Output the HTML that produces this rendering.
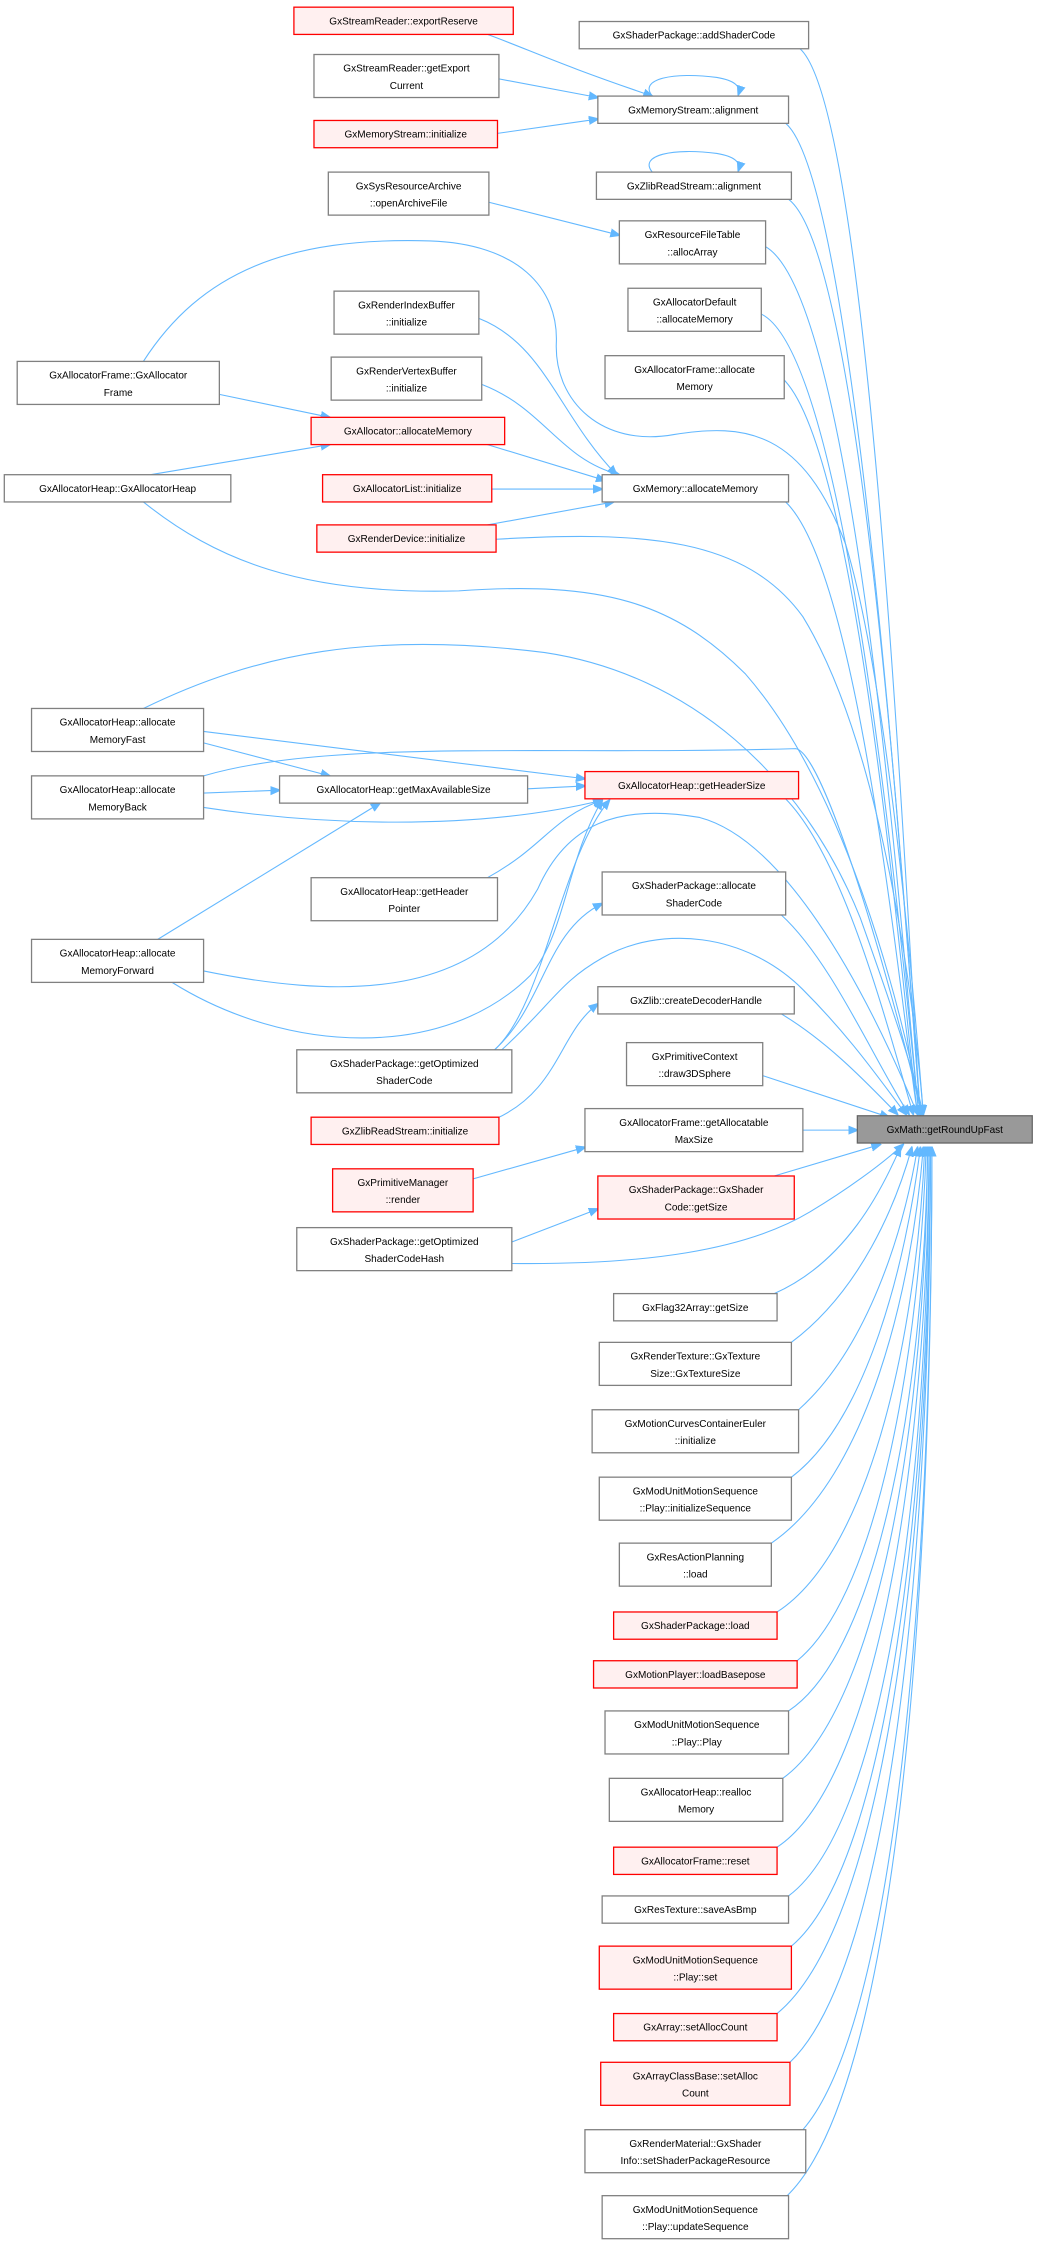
<!DOCTYPE html>
<html><head><meta charset="utf-8"><style>
html,body{margin:0;padding:0;background:#fff;}
svg{display:block;}
text{font-family:"Liberation Sans",sans-serif;font-size:7px;fill:#000;text-anchor:middle;}
.n rect{fill:#fff;stroke:#808080;stroke-width:0.9;}
.r rect{fill:#fff0f0;stroke:#ff0000;stroke-width:0.9;}
.t rect{fill:#999;stroke:#666;stroke-width:0.9;}
path.e{fill:none;stroke:#63b8ff;stroke-width:0.75;}
</style></head><body>
<svg width="1038" height="2243" viewBox="0 0 724 1564" preserveAspectRatio="none" xmlns="http://www.w3.org/2000/svg">
<defs><marker id="a" viewBox="0 0 10 10" refX="9" refY="5" markerWidth="7" markerHeight="7" markerUnits="userSpaceOnUse" orient="auto"><path d="M0,1 L10,5 L0,9 z" fill="#63b8ff" stroke="#63b8ff"/></marker></defs>
<g marker-end="url(#a)">
<!-- local edges -->
<path class="e" d="M340,24 C370,35 390,45 455,67"/>
<path class="e" d="M348,55 L417,68"/>
<path class="e" d="M347,93 L417,83"/>
<path class="e" d="M455,67 C445,55 470,50 500,54 C512,56 517,60 515,66"/>
<path class="e" d="M455,120 C445,108 470,103 500,107 C512,109 517,113 515,119"/>
<path class="e" d="M341,141 L432,164"/>
<path class="e" d="M153,275 L230,291"/>
<path class="e" d="M105,331 L230,310"/>
<path class="e" d="M334,222 C380,240 390,290 430,331"/>
<path class="e" d="M336,268 C380,285 390,320 432,331"/>
<path class="e" d="M340,310 L422,335"/>
<path class="e" d="M343,341 L420,341"/>
<path class="e" d="M340,366 L428,350"/>
<path class="e" d="M142,510 L408,543"/>
<path class="e" d="M142,518 L230,541"/>
<path class="e" d="M142,553 L195,551"/>
<path class="e" d="M142,563 C220,575 330,580 420,558"/>
<path class="e" d="M368,550 L408,548"/>
<path class="e" d="M110,655 L265,560"/>
<path class="e" d="M120,685 C200,735 310,740 370,680 C395,650 395,600 420,558"/>
<path class="e" d="M340,612 C380,590 385,570 420,558"/>
<path class="e" d="M345,732 C380,700 390,600 425,558"/>
<path class="e" d="M345,732 C380,700 380,650 420,630"/>
<path class="e" d="M346,780 C390,760 390,720 417,700"/>
<path class="e" d="M330,822 L408,800"/>
<path class="e" d="M357,866 L417,843"/>
<path class="e" d="M560,788 L598,788"/>
<!-- to target from above -->
<path class="e" d="M558,34 C610,80 635,700 642,777"/>
<path class="e" d="M548,86 C600,130 635,700 642,777"/>
<path class="e" d="M550,139 C605,180 635,700 642,777"/>
<path class="e" d="M534,172 C600,210 632,700 641,777"/>
<path class="e" d="M531,219 C595,250 632,700 641,777"/>
<path class="e" d="M547,265 C600,320 630,700 640,777"/>
<path class="e" d="M548,350 C600,400 628,700 640,777"/>
<path class="e" d="M548,557 C590,600 620,720 637,777"/>
<path class="e" d="M545,638 C580,670 610,740 634,777"/>
<path class="e" d="M545,707 C575,725 600,750 626,777"/>
<path class="e" d="M532,750 L620,779"/>
<path class="e" d="M540,820 L614,798"/>
<!-- long edges -->
<path class="e" d="M100,252 C140,190 200,165 300,168 C360,170 390,200 388,240 C387,280 420,312 470,303 C520,295 560,300 590,380 C620,480 638,700 644,777"/>
<path class="e" d="M100,350 C150,390 210,415 320,412 C420,405 470,420 520,470 C590,550 628,700 643,777"/>
<path class="e" d="M346,376 C450,370 520,375 560,430 C615,520 638,700 644,777"/>
<path class="e" d="M100,494 C180,455 260,440 380,455 C480,470 560,540 600,640 C625,710 638,750 644,777"/>
<path class="e" d="M142,541 C230,515 380,527 555,522 C575,525 620,680 643,777"/>
<path class="e" d="M142,677 C230,695 330,700 375,620 C395,575 430,560 488,570 C545,585 600,680 640,777"/>
<path class="e" d="M350,732 C385,700 390,685 420,668 C460,645 520,650 560,690 C595,725 615,755 632,777"/>
<path class="e" d="M357,881 C450,882 520,872 565,845 C590,830 615,812 630,798"/>
<!-- to target from below -->
<path class="e" d="M540,902 C590,880 615,830 628,800"/>
<path class="e" d="M552,936 C600,900 625,840 636,800"/>
<path class="e" d="M557,983 C605,940 630,860 640,800"/>
<path class="e" d="M552,1030 C605,990 632,880 642,800"/>
<path class="e" d="M538,1076 C605,1030 636,900 644,800"/>
<path class="e" d="M542,1124 C610,1080 640,920 645,800"/>
<path class="e" d="M556,1158 C615,1110 642,930 646,800"/>
<path class="e" d="M550,1193 C615,1150 645,960 647,800"/>
<path class="e" d="M546,1240 C615,1190 646,980 647,800"/>
<path class="e" d="M542,1288 C615,1240 647,1000 648,800"/>
<path class="e" d="M550,1322 C620,1270 648,1020 648,800"/>
<path class="e" d="M552,1357 C620,1300 648,1040 649,800"/>
<path class="e" d="M542,1404 C620,1340 649,1060 649,800"/>
<path class="e" d="M551,1438 C622,1370 649,1080 649,800"/>
<path class="e" d="M560,1485 C625,1410 650,1100 650,800"/>
<path class="e" d="M548,1532 C625,1460 650,1120 650,800"/>
</g>
<!-- nodes -->
<g class="r"><rect x="205" y="5" width="153" height="19"/><text x="281.5" y="17">GxStreamReader::exportReserve</text></g>
<g class="n"><rect x="219" y="38" width="129" height="30"/><text x="283.5" y="50">GxStreamReader::getExport</text><text x="283.5" y="62">Current</text></g>
<g class="r"><rect x="219" y="84" width="128" height="19"/><text x="283" y="96">GxMemoryStream::initialize</text></g>
<g class="n"><rect x="229" y="120" width="112" height="30"/><text x="285" y="132">GxSysResourceArchive</text><text x="285" y="144">::openArchiveFile</text></g>
<g class="n"><rect x="233" y="203" width="101" height="30"/><text x="283.5" y="215">GxRenderIndexBuffer</text><text x="283.5" y="227">::initialize</text></g>
<g class="n"><rect x="231" y="249" width="105" height="30"/><text x="283.5" y="261">GxRenderVertexBuffer</text><text x="283.5" y="273">::initialize</text></g>
<g class="r"><rect x="217" y="291" width="135" height="19"/><text x="284.5" y="303">GxAllocator::allocateMemory</text></g>
<g class="r"><rect x="225" y="331" width="118" height="19"/><text x="284" y="343">GxAllocatorList::initialize</text></g>
<g class="r"><rect x="221" y="366" width="125" height="19"/><text x="283.5" y="378">GxRenderDevice::initialize</text></g>

<g class="n"><rect x="404" y="15" width="160" height="19"/><text x="484" y="27">GxShaderPackage::addShaderCode</text></g>
<g class="n"><rect x="417" y="67" width="133" height="19"/><text x="483.5" y="79">GxMemoryStream::alignment</text></g>
<g class="n"><rect x="416" y="120" width="136" height="19"/><text x="484" y="132">GxZlibReadStream::alignment</text></g>
<g class="n"><rect x="432" y="154" width="102" height="30"/><text x="483" y="166">GxResourceFileTable</text><text x="483" y="178">::allocArray</text></g>
<g class="n"><rect x="438" y="201" width="93" height="30"/><text x="484.5" y="213">GxAllocatorDefault</text><text x="484.5" y="225">::allocateMemory</text></g>
<g class="n"><rect x="422" y="248" width="125" height="30"/><text x="484.5" y="260">GxAllocatorFrame::allocate</text><text x="484.5" y="272">Memory</text></g>
<g class="n"><rect x="420" y="331" width="130" height="19"/><text x="485" y="343">GxMemory::allocateMemory</text></g>

<g class="n"><rect x="12" y="252" width="141" height="30"/><text x="82.5" y="264">GxAllocatorFrame::GxAllocator</text><text x="82.5" y="276">Frame</text></g>
<g class="n"><rect x="3" y="331" width="158" height="19"/><text x="82" y="343">GxAllocatorHeap::GxAllocatorHeap</text></g>
<g class="n"><rect x="22" y="494" width="120" height="30"/><text x="82" y="506">GxAllocatorHeap::allocate</text><text x="82" y="518">MemoryFast</text></g>
<g class="n"><rect x="22" y="541" width="120" height="30"/><text x="82" y="553">GxAllocatorHeap::allocate</text><text x="82" y="565">MemoryBack</text></g>
<g class="n"><rect x="22" y="655" width="120" height="30"/><text x="82" y="667">GxAllocatorHeap::allocate</text><text x="82" y="679">MemoryForward</text></g>

<g class="n"><rect x="195" y="541" width="173" height="19"/><text x="281.5" y="553">GxAllocatorHeap::getMaxAvailableSize</text></g>
<g class="n"><rect x="217" y="612" width="130" height="30"/><text x="282" y="624">GxAllocatorHeap::getHeader</text><text x="282" y="636">Pointer</text></g>
<g class="n"><rect x="207" y="732" width="150" height="30"/><text x="282" y="744">GxShaderPackage::getOptimized</text><text x="282" y="756">ShaderCode</text></g>
<g class="r"><rect x="217" y="779" width="131" height="19"/><text x="282.5" y="791">GxZlibReadStream::initialize</text></g>
<g class="r"><rect x="232" y="815" width="98" height="30"/><text x="281" y="827">GxPrimitiveManager</text><text x="281" y="839">::render</text></g>
<g class="n"><rect x="207" y="856" width="150" height="30"/><text x="282" y="868">GxShaderPackage::getOptimized</text><text x="282" y="880">ShaderCodeHash</text></g>

<g class="r"><rect x="408" y="538" width="149" height="19"/><text x="482.5" y="550">GxAllocatorHeap::getHeaderSize</text></g>
<g class="n"><rect x="420" y="608" width="128" height="30"/><text x="484" y="620">GxShaderPackage::allocate</text><text x="484" y="632">ShaderCode</text></g>
<g class="n"><rect x="417" y="688" width="137" height="19"/><text x="485.5" y="700">GxZlib::createDecoderHandle</text></g>
<g class="n"><rect x="437" y="727" width="95" height="30"/><text x="484.5" y="739">GxPrimitiveContext</text><text x="484.5" y="751">::draw3DSphere</text></g>
<g class="n"><rect x="408" y="773" width="152" height="30"/><text x="484" y="785">GxAllocatorFrame::getAllocatable</text><text x="484" y="797">MaxSize</text></g>
<g class="r"><rect x="417" y="820" width="137" height="30"/><text x="485.5" y="832">GxShaderPackage::GxShader</text><text x="485.5" y="844">Code::getSize</text></g>
<g class="n"><rect x="428" y="902" width="114" height="19"/><text x="485" y="914">GxFlag32Array::getSize</text></g>
<g class="n"><rect x="418" y="936" width="134" height="30"/><text x="485" y="948">GxRenderTexture::GxTexture</text><text x="485" y="960">Size::GxTextureSize</text></g>
<g class="n"><rect x="413" y="983" width="144" height="30"/><text x="485" y="995">GxMotionCurvesContainerEuler</text><text x="485" y="1007">::initialize</text></g>
<g class="n"><rect x="418" y="1030" width="134" height="30"/><text x="485" y="1042">GxModUnitMotionSequence</text><text x="485" y="1054">::Play::initializeSequence</text></g>
<g class="n"><rect x="432" y="1076" width="106" height="30"/><text x="485" y="1088">GxResActionPlanning</text><text x="485" y="1100">::load</text></g>
<g class="r"><rect x="428" y="1124" width="114" height="19"/><text x="485" y="1136">GxShaderPackage::load</text></g>
<g class="r"><rect x="414" y="1158" width="142" height="19"/><text x="485" y="1170">GxMotionPlayer::loadBasepose</text></g>
<g class="n"><rect x="422" y="1193" width="128" height="30"/><text x="486" y="1205">GxModUnitMotionSequence</text><text x="486" y="1217">::Play::Play</text></g>
<g class="n"><rect x="425" y="1240" width="121" height="30"/><text x="485.5" y="1252">GxAllocatorHeap::realloc</text><text x="485.5" y="1264">Memory</text></g>
<g class="r"><rect x="428" y="1288" width="114" height="19"/><text x="485" y="1300">GxAllocatorFrame::reset</text></g>
<g class="n"><rect x="420" y="1322" width="130" height="19"/><text x="485" y="1334">GxResTexture::saveAsBmp</text></g>
<g class="r"><rect x="418" y="1357" width="134" height="30"/><text x="485" y="1369">GxModUnitMotionSequence</text><text x="485" y="1381">::Play::set</text></g>
<g class="r"><rect x="428" y="1404" width="114" height="19"/><text x="485" y="1416">GxArray::setAllocCount</text></g>
<g class="r"><rect x="419" y="1438" width="132" height="30"/><text x="485" y="1450">GxArrayClassBase::setAlloc</text><text x="485" y="1462">Count</text></g>
<g class="n"><rect x="408" y="1485" width="154" height="30"/><text x="485" y="1497">GxRenderMaterial::GxShader</text><text x="485" y="1509">Info::setShaderPackageResource</text></g>
<g class="n"><rect x="420" y="1531" width="130" height="30"/><text x="485" y="1543">GxModUnitMotionSequence</text><text x="485" y="1555">::Play::updateSequence</text></g>

<g class="t"><rect x="598" y="778" width="122" height="19"/><text x="659" y="790">GxMath::getRoundUpFast</text></g>
</svg>
</body></html>
